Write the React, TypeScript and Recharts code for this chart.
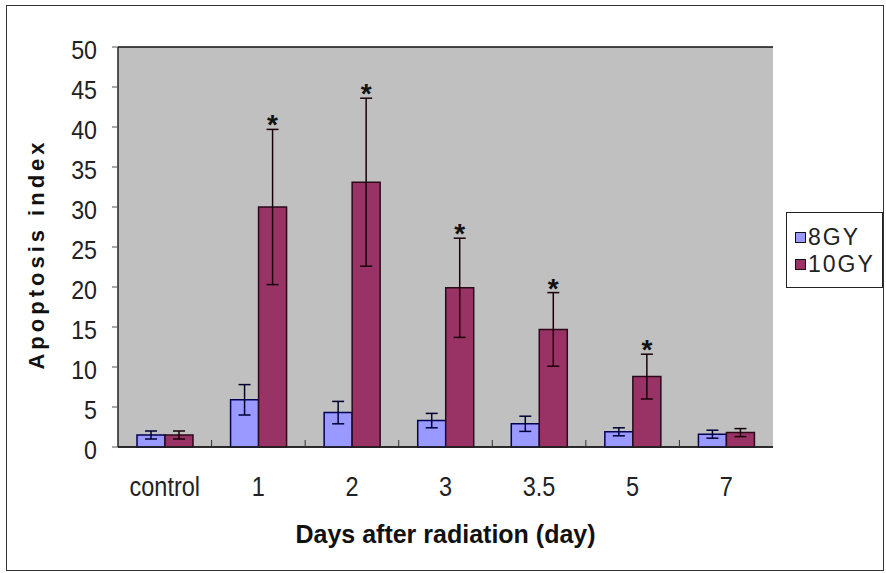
import { BarChart, Bar, XAxis, YAxis, CartesianGrid, ErrorBar, Legend, LabelList } from 'recharts';

// Apoptosis index by day after radiation, two doses, mean ± error
const days = ['control', '1', '2', '3', '3.5', '5', '7'];
const gy8 = [1.5, 5.9, 4.3, 3.3, 2.9, 1.9, 1.6];
const gy8Err = [0.5, 1.9, 1.4, 0.9, 0.95, 0.5, 0.5];
const gy10 = [1.5, 30.0, 33.1, 19.9, 14.7, 8.8, 1.8];
const gy10Err = [0.5, 9.7, 10.5, 6.2, 4.6, 2.8, 0.5];
const significant = [false, true, true, true, true, true, false];
const yTicks = [0, 5, 10, 15, 20, 25, 30, 35, 40, 45, 50];

const series = [
  { key: 'gy8', name: '8GY', fill: '#9999FF', edge: '#000055' },
  { key: 'gy10', name: '10GY', fill: '#993366', edge: '#2a0a18' },
];

const FONT = "'Liberation Sans', Arial, sans-serif";
const X_TICK_MARGIN = 29;
const LEGEND_W = 97;

const data = days.map((day, i) => ({
  day,
  gy8: gy8[i],
  gy8Err: gy8Err[i],
  gy10: gy10[i],
  gy10Err: gy10Err[i],
}));

// category labels are squeezed horizontally; small inward ticks mark the category boundaries
const DayTick = ({ x, y, payload, index }: any) => {
  const axisY = y - X_TICK_MARGIN;
  const half = payload?.offset ?? 0;
  return (
    <g>
      {index < days.length - 1 && half > 0 && (
        <line x1={x + half} x2={x + half} y1={axisY} y2={axisY - 7} stroke="#333" strokeWidth={1} />
      )}
      <text
        transform={`translate(${x},${y}) scale(0.84,1)`}
        dy="0.71em"
        textAnchor="middle"
        fontFamily={FONT}
        fontSize={28}
        fill="#222"
      >
        {payload.value}
      </text>
    </g>
  );
};

const ValueTick = ({ x, y, payload }: any) => (
  <text
    transform={`translate(${x},${y + 3}) scale(0.93,1)`}
    dy="0.355em"
    textAnchor="end"
    fontFamily={FONT}
    fontSize={25}
    fill="#222"
  >
    {payload.value}
  </text>
);

const YTitle = ({ viewBox }: any) => {
  const cx = viewBox.x + 36;
  const cy = viewBox.y + viewBox.height / 2 + 7;
  return (
    <text
      x={cx}
      y={cy}
      dy="0.355em"
      textAnchor="middle"
      transform={`rotate(-90, ${cx}, ${cy})`}
      fontFamily={FONT}
      fontSize={22}
      fontWeight="bold"
      letterSpacing={4}
      fill="#111"
    >
      Apoptosis index
    </text>
  );
};

// asterisk sits just above the upper whisker of the 10GY bar
const StarLabel = (props: any) => {
  const { x, y, width, height, value, index } = props;
  if (!significant[index] || !value) return null;
  const perUnit = height / value;
  const top = y - gy10Err[index] * perUnit;
  return (
    <text x={x + width / 2} y={top + 5} textAnchor="middle" fontFamily={FONT} fontSize={28} fontWeight="bold" fill="#111">
      *
    </text>
  );
};

const LegendBox = () => (
  <div
    style={{
      border: '1px solid #222',
      background: '#fff',
      width: LEGEND_W,
      height: 76,
      boxSizing: 'border-box',
      padding: '11px 0 0 8px',
      fontFamily: FONT,
      fontSize: 23,
      letterSpacing: 2,
      color: '#222',
    }}
  >
    {series.map((s) => (
      <div key={s.key} style={{ display: 'flex', alignItems: 'center', height: 27 }}>
        <span
          style={{
            display: 'inline-block',
            width: 9,
            height: 9,
            background: s.fill,
            border: '1px solid #111',
            marginRight: 2,
          }}
        />
        <span>{s.name}</span>
      </div>
    ))}
  </div>
);

export default function App() {
  return (
    <div style={{ position: 'absolute', left: 0, top: 0, width: 886, height: 573, background: '#fff', overflow: 'hidden' }}>
      <div
        style={{
          position: 'absolute',
          left: 6,
          top: 5,
          width: 878,
          height: 566,
          border: '1px solid #333',
          boxSizing: 'border-box',
        }}
      />
      <div style={{ position: 'absolute', left: 0, top: 0 }}>
        <BarChart
          width={886}
          height={573}
          data={data}
          // the legend's width is reserved on the right by recharts
          margin={{ top: 47, right: 113 - LEGEND_W, bottom: 0, left: 0 }}
          barSize={28}
          barGap={0}
        >
          <CartesianGrid vertical={false} stroke="#111" strokeWidth={1.5} fill="#C0C0C0" fillOpacity={1} />
          <XAxis
            dataKey="day"
            height={126}
            tickLine={false}
            tickSize={0}
            tickMargin={X_TICK_MARGIN}
            axisLine={{ stroke: '#222', strokeWidth: 1.5 }}
            tick={<DayTick />}
            label={{
              value: 'Days after radiation (day)',
              position: 'insideBottom',
              offset: 30,
              style: { fontFamily: FONT, fontSize: 25, fontWeight: 'bold', fill: '#111' },
            }}
          />
          <YAxis
            yAxisId="left"
            width={118}
            domain={[0, 50]}
            ticks={yTicks}
            interval={0}
            tickSize={6}
            tickMargin={15}
            tickLine={{ stroke: '#555' }}
            axisLine={{ stroke: '#222', strokeWidth: 1.5 }}
            tick={<ValueTick />}
            label={<YTitle />}
          />
          <YAxis yAxisId="right" orientation="right" width={0} domain={[0, 50]} tick={false} tickLine={false} axisLine={{ stroke: '#808080' }} />
          <Legend
            layout="horizontal"
            verticalAlign="middle"
            align="right"
            wrapperStyle={{ left: 786, top: 212, width: LEGEND_W, height: 76 }}
            content={<LegendBox />}
          />
          <Bar yAxisId="left" dataKey="gy8" name="8GY" fill={series[0].fill} stroke={series[0].edge} strokeWidth={1.5} isAnimationActive={false}>
            <ErrorBar dataKey="gy8Err" width={6} stroke="#000033" strokeWidth={1.5} />
          </Bar>
          <Bar yAxisId="left" dataKey="gy10" name="10GY" fill={series[1].fill} stroke={series[1].edge} strokeWidth={1.5} isAnimationActive={false}>
            <ErrorBar dataKey="gy10Err" width={6} stroke="#1a0008" strokeWidth={1.5} />
            <LabelList dataKey="gy10" content={<StarLabel />} />
          </Bar>
        </BarChart>
      </div>
    </div>
  );
}
